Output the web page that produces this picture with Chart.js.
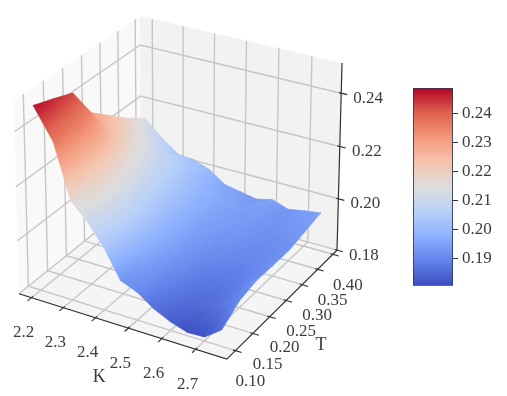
<!DOCTYPE html>
<html>
<head>
<meta charset="utf-8">
<title>Volatility surface</title>
<script src="https://cdn.jsdelivr.net/npm/chart.js@4/dist/chart.umd.js"></script>
<style>
    html, body { margin: 0; padding: 0; background: #fff; width: 507px; height: 396px; overflow: hidden; }
    canvas { position: absolute; filter: blur(0.35px); }
    #surface { left: 0; top: 0; }
    #colorbar { left: 400px; top: 70px; }
</style>
</head>
<body>
<canvas id="surface" width="507" height="396"></canvas>
<canvas id="colorbar" width="107" height="230"></canvas>
<script>
const kValues = [2.19, 2.25, 2.3, 2.35, 2.4, 2.45, 2.5, 2.55, 2.6, 2.65, 2.7, 2.75];
const tValues = [0.1, 0.15, 0.2, 0.25, 0.3, 0.35, 0.4];

// surface heights, one list per T, same order as kValues
const volT10 = [0.248, 0.2367, 0.217, 0.211, 0.2034, 0.1929, 0.1904, 0.1861, 0.1832, 0.1812, 0.1815, 0.186];
const volT15 = [0.2455, 0.235, 0.2215, 0.2135, 0.2055, 0.1965, 0.192, 0.1885, 0.186, 0.1855, 0.187, 0.1905];
const volT20 = [0.2428, 0.2325, 0.2205, 0.2125, 0.2055, 0.198, 0.194, 0.1905, 0.188, 0.1875, 0.1885, 0.192];
const volT25 = [0.2305, 0.2245, 0.216, 0.21, 0.204, 0.198, 0.1945, 0.192, 0.191, 0.1895, 0.19, 0.1918];
const volT30 = [0.2245, 0.2185, 0.2125, 0.2075, 0.2025, 0.198, 0.195, 0.1935, 0.1925, 0.191, 0.191, 0.1918];
const volT35 = [0.2185, 0.213, 0.2085, 0.205, 0.201, 0.1975, 0.1955, 0.194, 0.1935, 0.192, 0.1925, 0.1932];
const volT40 = [0.2135, 0.207, 0.2026, 0.2022, 0.2, 0.1957, 0.1945, 0.1933, 0.1948, 0.1927, 0.1938, 0.1947];
const volRows = [volT10, volT15, volT20, volT25, volT30, volT35, volT40];

const kTicks = [2.2, 2.3, 2.4, 2.5, 2.6, 2.7];
const tTicks = [0.1, 0.15, 0.2, 0.25, 0.3, 0.35, 0.4];
const zTicks = [0.18, 0.2, 0.22, 0.24];
const colorbarTicks = [0.19, 0.2, 0.21, 0.22, 0.23, 0.24];

const kLim = [2.16, 2.79];
const tLim = [0.076, 0.414];
const zLim = [0.18, 0.2512];
const colorLim = [0.1806, 0.2487];

// coolwarm colour map
const coolwarm = [
    [59, 76, 192], [98, 130, 234], [141, 176, 254], [184, 208, 249], [221, 221, 221],
    [245, 196, 173], [244, 152, 122], [222, 96, 77], [180, 4, 38],
];

const FONT = '"Liberation Serif", serif';
const TEXT_COLOR = "#3c3c3c";

// camera, same as a 3D axes view
const elev = (23 * Math.PI) / 180;
const azim = (-60 * Math.PI) / 180;
const camDist = 10;
const box = [1.143, 1.143, 0.83];
const dir = [Math.cos(elev) * Math.cos(azim), Math.cos(elev) * Math.sin(azim), Math.sin(elev)];
const right = [-Math.sin(azim), Math.cos(azim), 0];
const up = [
    dir[1] * right[2] - dir[2] * right[1],
    dir[2] * right[0] - dir[0] * right[2],
    dir[0] * right[1] - dir[1] * right[0],
];

const dot = (a, b) => a[0] * b[0] + a[1] * b[1] + a[2] * b[2];

function toBox(k, t, z) {
    return [
        ((k - kLim[0]) / (kLim[1] - kLim[0]) - 0.5) * box[0],
        ((t - tLim[0]) / (tLim[1] - tLim[0]) - 0.5) * box[1],
        ((z - zLim[0]) / (zLim[1] - zLim[0]) - 0.5) * box[2],
    ];
}

function project(k, t, z) {
    const p = toBox(k, t, z);
    const depth = camDist - dot(p, dir);
    return { x: dot(p, right) / depth, y: dot(p, up) / depth };
}

function colorAt(s) {
    const f = Math.min(1, Math.max(0, s)) * (coolwarm.length - 1);
    const i = Math.min(coolwarm.length - 2, Math.floor(f));
    const c = coolwarm[i].map((v, n) => Math.round(v + (coolwarm[i + 1][n] - v) * (f - i)));
    return `rgb(${c[0]},${c[1]},${c[2]})`;
}

const colorPos = (z) => (z - colorLim[0]) / (colorLim[1] - colorLim[0]);

/**
 * Linear gradient that matches the heights of one triangle of the surface
 */
function triangleGradient(chart, tri) {
    const { x: sx, y: sy } = chart.scales;
    const a = tri.map((v) => ({ px: sx.getPixelForValue(v.x), py: sy.getPixelForValue(v.y), s: colorPos(v.z) }));
    a.sort((m, n) => m.s - n.s);
    const [p0, p1, p2] = a;
    const x1 = p1.px - p0.px, y1 = p1.py - p0.py, x2 = p2.px - p0.px, y2 = p2.py - p0.py;
    const ds1 = p1.s - p0.s, ds2 = p2.s - p0.s;
    const det = x1 * y2 - x2 * y1;
    const range = p2.s - p0.s;
    if (Math.abs(det) < 1e-6 || range < 1e-6) return colorAt(p0.s);
    const gx = (ds1 * y2 - ds2 * y1) / det;
    const gy = (x1 * ds2 - x2 * ds1) / det;
    const g2 = gx * gx + gy * gy;
    const grad = chart.ctx.createLinearGradient(
        p0.px, p0.py,
        p0.px + (gx * range) / g2, p0.py + (gy * range) / g2,
    );
    for (let i = 0; i <= 6; i++) {
        grad.addColorStop(i / 6, colorAt(p0.s + (range * i) / 6));
    }
    return grad;
}

function lineLayer(points, color, width) {
    return {
        data: points, borderColor: color, borderWidth: width,
        pointRadius: 0, fill: false, tension: 0,
    };
}

function wallLayer(corners, color) {
    return {
        data: [...corners, corners[0]], backgroundColor: color, borderColor: color, borderWidth: 0,
        pointRadius: 0, fill: "shape", tension: 0,
    };
}

function triangleLayer(tri) {
    let grad = null;
    const paint = (c) => {
        if (!c.chart.chartArea) return "#ccc";
        if (!grad) grad = triangleGradient(c.chart, tri);
        return grad;
    };
    return {
        data: [tri[0], tri[1], tri[2], tri[0]].map((v) => ({ x: v.x, y: v.y })),
        backgroundColor: paint, borderColor: paint, borderWidth: 0.7,
        pointRadius: 0, fill: "shape", tension: 0,
    };
}

function buildLayers() {
    const layers = [];
    const [k0, k1] = kLim, [t0, t1] = tLim, [z0, z1] = zLim;

    layers.push(wallLayer([project(k0, t0, z0), project(k0, t1, z0), project(k0, t1, z1), project(k0, t0, z1)], "#f9f9f9"));
    layers.push(wallLayer([project(k0, t1, z0), project(k1, t1, z0), project(k1, t1, z1), project(k0, t1, z1)], "#f2f2f2"));
    layers.push(wallLayer([project(k0, t0, z0), project(k1, t0, z0), project(k1, t1, z0), project(k0, t1, z0)], "#f5f5f5"));

    const gridColor = "#c6c6c6";
    kTicks.forEach((k) => layers.push(lineLayer([project(k, t0, z0), project(k, t1, z0), project(k, t1, z1)], gridColor, 1.4)));
    tTicks.forEach((t) => layers.push(lineLayer([project(k1, t, z0), project(k0, t, z0), project(k0, t, z1)], gridColor, 1.4)));
    zTicks.forEach((z) => layers.push(lineLayer([project(k0, t0, z), project(k0, t1, z), project(k1, t1, z)], gridColor, 1.4)));

    // surface triangles, furthest from the camera first
    const tris = [];
    for (let j = 0; j < tValues.length - 1; j++) {
        for (let i = 0; i < kValues.length - 1; i++) {
            const corner = (a, b) => {
                const z = volRows[b][a];
                return { ...project(kValues[a], tValues[b], z), z, near: dot(toBox(kValues[a], tValues[b], z), dir) };
            };
            const c00 = corner(i, j), c10 = corner(i + 1, j), c01 = corner(i, j + 1), c11 = corner(i + 1, j + 1);
            tris.push([c00, c10, c11], [c00, c11, c01]);
        }
    }
    const near = (tri) => tri[0].near + tri[1].near + tri[2].near;
    tris.sort((a, b) => near(a) - near(b));
    tris.forEach((tri) => layers.push(triangleLayer(tri)));

    const axisColor = "#2f2f2f";
    layers.push(lineLayer([project(k0, t0, z0), project(k1, t0, z0), project(k1, t1, z0), project(k1, t1, z1)], axisColor, 1.2));
    kTicks.forEach((k) => layers.push(lineLayer([project(k, t0 + 0.004, z0), project(k, t0 - 0.01, z0)], axisColor, 1.1)));
    tTicks.forEach((t) => layers.push(lineLayer([project(k1 - 0.007, t, z0), project(k1 + 0.018, t, z0)], axisColor, 1.1)));
    zTicks.forEach((z) => layers.push(lineLayer([project(k1 - 0.007, t1, z), project(k1 + 0.018, t1, z)], axisColor, 1.1)));

    layers.forEach((layer, i) => {
        layer.order = layers.length - i;
    });
    return layers;
}

// tick labels sit at a fixed offset from their tick
const tickTextPlugin = {
    id: "tickText",
    afterDraw(chart) {
        const { ctx, scales } = chart;
        const put = (pos, text, dx, dy) => {
            ctx.fillText(text, scales.x.getPixelForValue(pos.x) + dx, scales.y.getPixelForValue(pos.y) + dy);
        };
        ctx.save();
        ctx.font = `17px ${FONT}`;
        ctx.fillStyle = TEXT_COLOR;
        ctx.textAlign = "center";
        ctx.textBaseline = "middle";
        kTicks.forEach((k) => put(project(k, tLim[0], zLim[0]), k.toFixed(1), -8, 35));
        tTicks.forEach((t) => put(project(kLim[1], t, zLim[0]), t.toFixed(2), 15, 31));
        zTicks.forEach((z) => put(project(kLim[1], tLim[1], z), z.toFixed(2), 27, 5));
        ctx.font = `18px ${FONT}`;
        put(project(2.5, tLim[0], zLim[0]), "K", -29, 49);
        put(project(kLim[1], 0.25, zLim[0]), "T", 35, 45);
        ctx.restore();
    },
};

new Chart(document.getElementById("surface"), {
    type: "line",
    data: { datasets: buildLayers() },
    options: {
        responsive: false,
        animation: false,
        events: [],
        layout: { padding: 0 },
        plugins: { legend: { display: false }, tooltip: { enabled: false } },
        scales: {
            x: { type: "linear", display: false, min: -0.08748, max: 0.15756 },
            y: { type: "linear", display: false, min: -0.0876, max: 0.07153 },
        },
    },
    plugins: [tickTextPlugin],
});

function colorbarGradient(c) {
    const area = c.chart.chartArea;
    if (!area) return "#ccc";
    const grad = c.chart.ctx.createLinearGradient(0, area.bottom, 0, area.top);
    for (let i = 0; i <= 16; i++) grad.addColorStop(i / 16, colorAt(i / 16));
    return grad;
}

new Chart(document.getElementById("colorbar"), {
    type: "bar",
    data: {
        labels: ["vol"],
        datasets: [{
            data: [colorLim],
            backgroundColor: colorbarGradient,
            borderColor: "#2d3a52",
            borderWidth: 1.2,
            borderSkipped: false,
            barPercentage: 1,
            categoryPercentage: 1,
        }],
    },
    options: {
        responsive: false,
        animation: false,
        events: [],
        layout: { padding: { left: 13, top: 18, bottom: 14, right: 0 } },
        plugins: { legend: { display: false }, tooltip: { enabled: false } },
        scales: {
            x: { display: false },
            y: {
                position: "right",
                min: colorLim[0],
                max: colorLim[1],
                afterBuildTicks: (scale) => {
                    scale.ticks = colorbarTicks.map((value) => ({ value }));
                },
                afterFit: (scale) => {
                    scale.width = 54;
                },
                grid: { display: true, drawOnChartArea: false, drawTicks: true, tickLength: 5, color: "#333" },
                border: { display: false },
                ticks: {
                    padding: 4,
                    color: TEXT_COLOR,
                    font: { family: FONT, size: 17 },
                    callback: (v) => v.toFixed(2),
                },
            },
        },
    },
});
</script>
</body>
</html>
